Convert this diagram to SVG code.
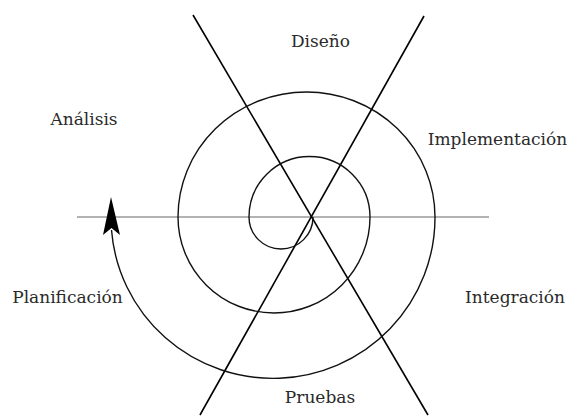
<svg xmlns="http://www.w3.org/2000/svg" width="570" height="416" viewBox="0 0 570 416">
<style>
.lbl{font-family:"DejaVu Serif","Liberation Serif",serif;font-size:17px;fill:#2a2a2a;text-anchor:middle}
.axis{stroke:#666;stroke-width:1;fill:none}
.cut{stroke:#000;stroke-width:1.6;fill:none}
.spiral{stroke:#111;stroke-width:1.4;fill:none}
</style>
<rect width="570" height="416" fill="#fff"/>
<g id="connectors">
<line class="axis" x1="77" y1="217" x2="489" y2="217"/>
<line class="cut" x1="193" y1="15" x2="428" y2="415"/>
<line class="cut" x1="424" y1="16" x2="200" y2="415"/>
<path class="spiral" d="M 313 217 A 32 32 0 0 1 249 217 A 60.5 60.5 0 0 1 370 217 A 96 96 0 0 1 178 217 A 128.5 125 0 0 1 435 217 A 162 161 0 0 1 111.5 230"/>
<polygon points="111,197 120,235 111.5,228 103,235" fill="#000"/>
</g>
<g id="diseno"><text class="lbl" x="320.5" y="47">Diseño</text></g>
<g id="analisis"><text class="lbl" x="84" y="125">Análisis</text></g>
<g id="implementacion"><text class="lbl" x="497.5" y="145">Implementación</text></g>
<g id="planificacion"><text class="lbl" x="67.5" y="303">Planificación</text></g>
<g id="integracion"><text class="lbl" x="515" y="303">Integración</text></g>
<g id="pruebas"><text class="lbl" x="320" y="403">Pruebas</text></g>
</svg>
